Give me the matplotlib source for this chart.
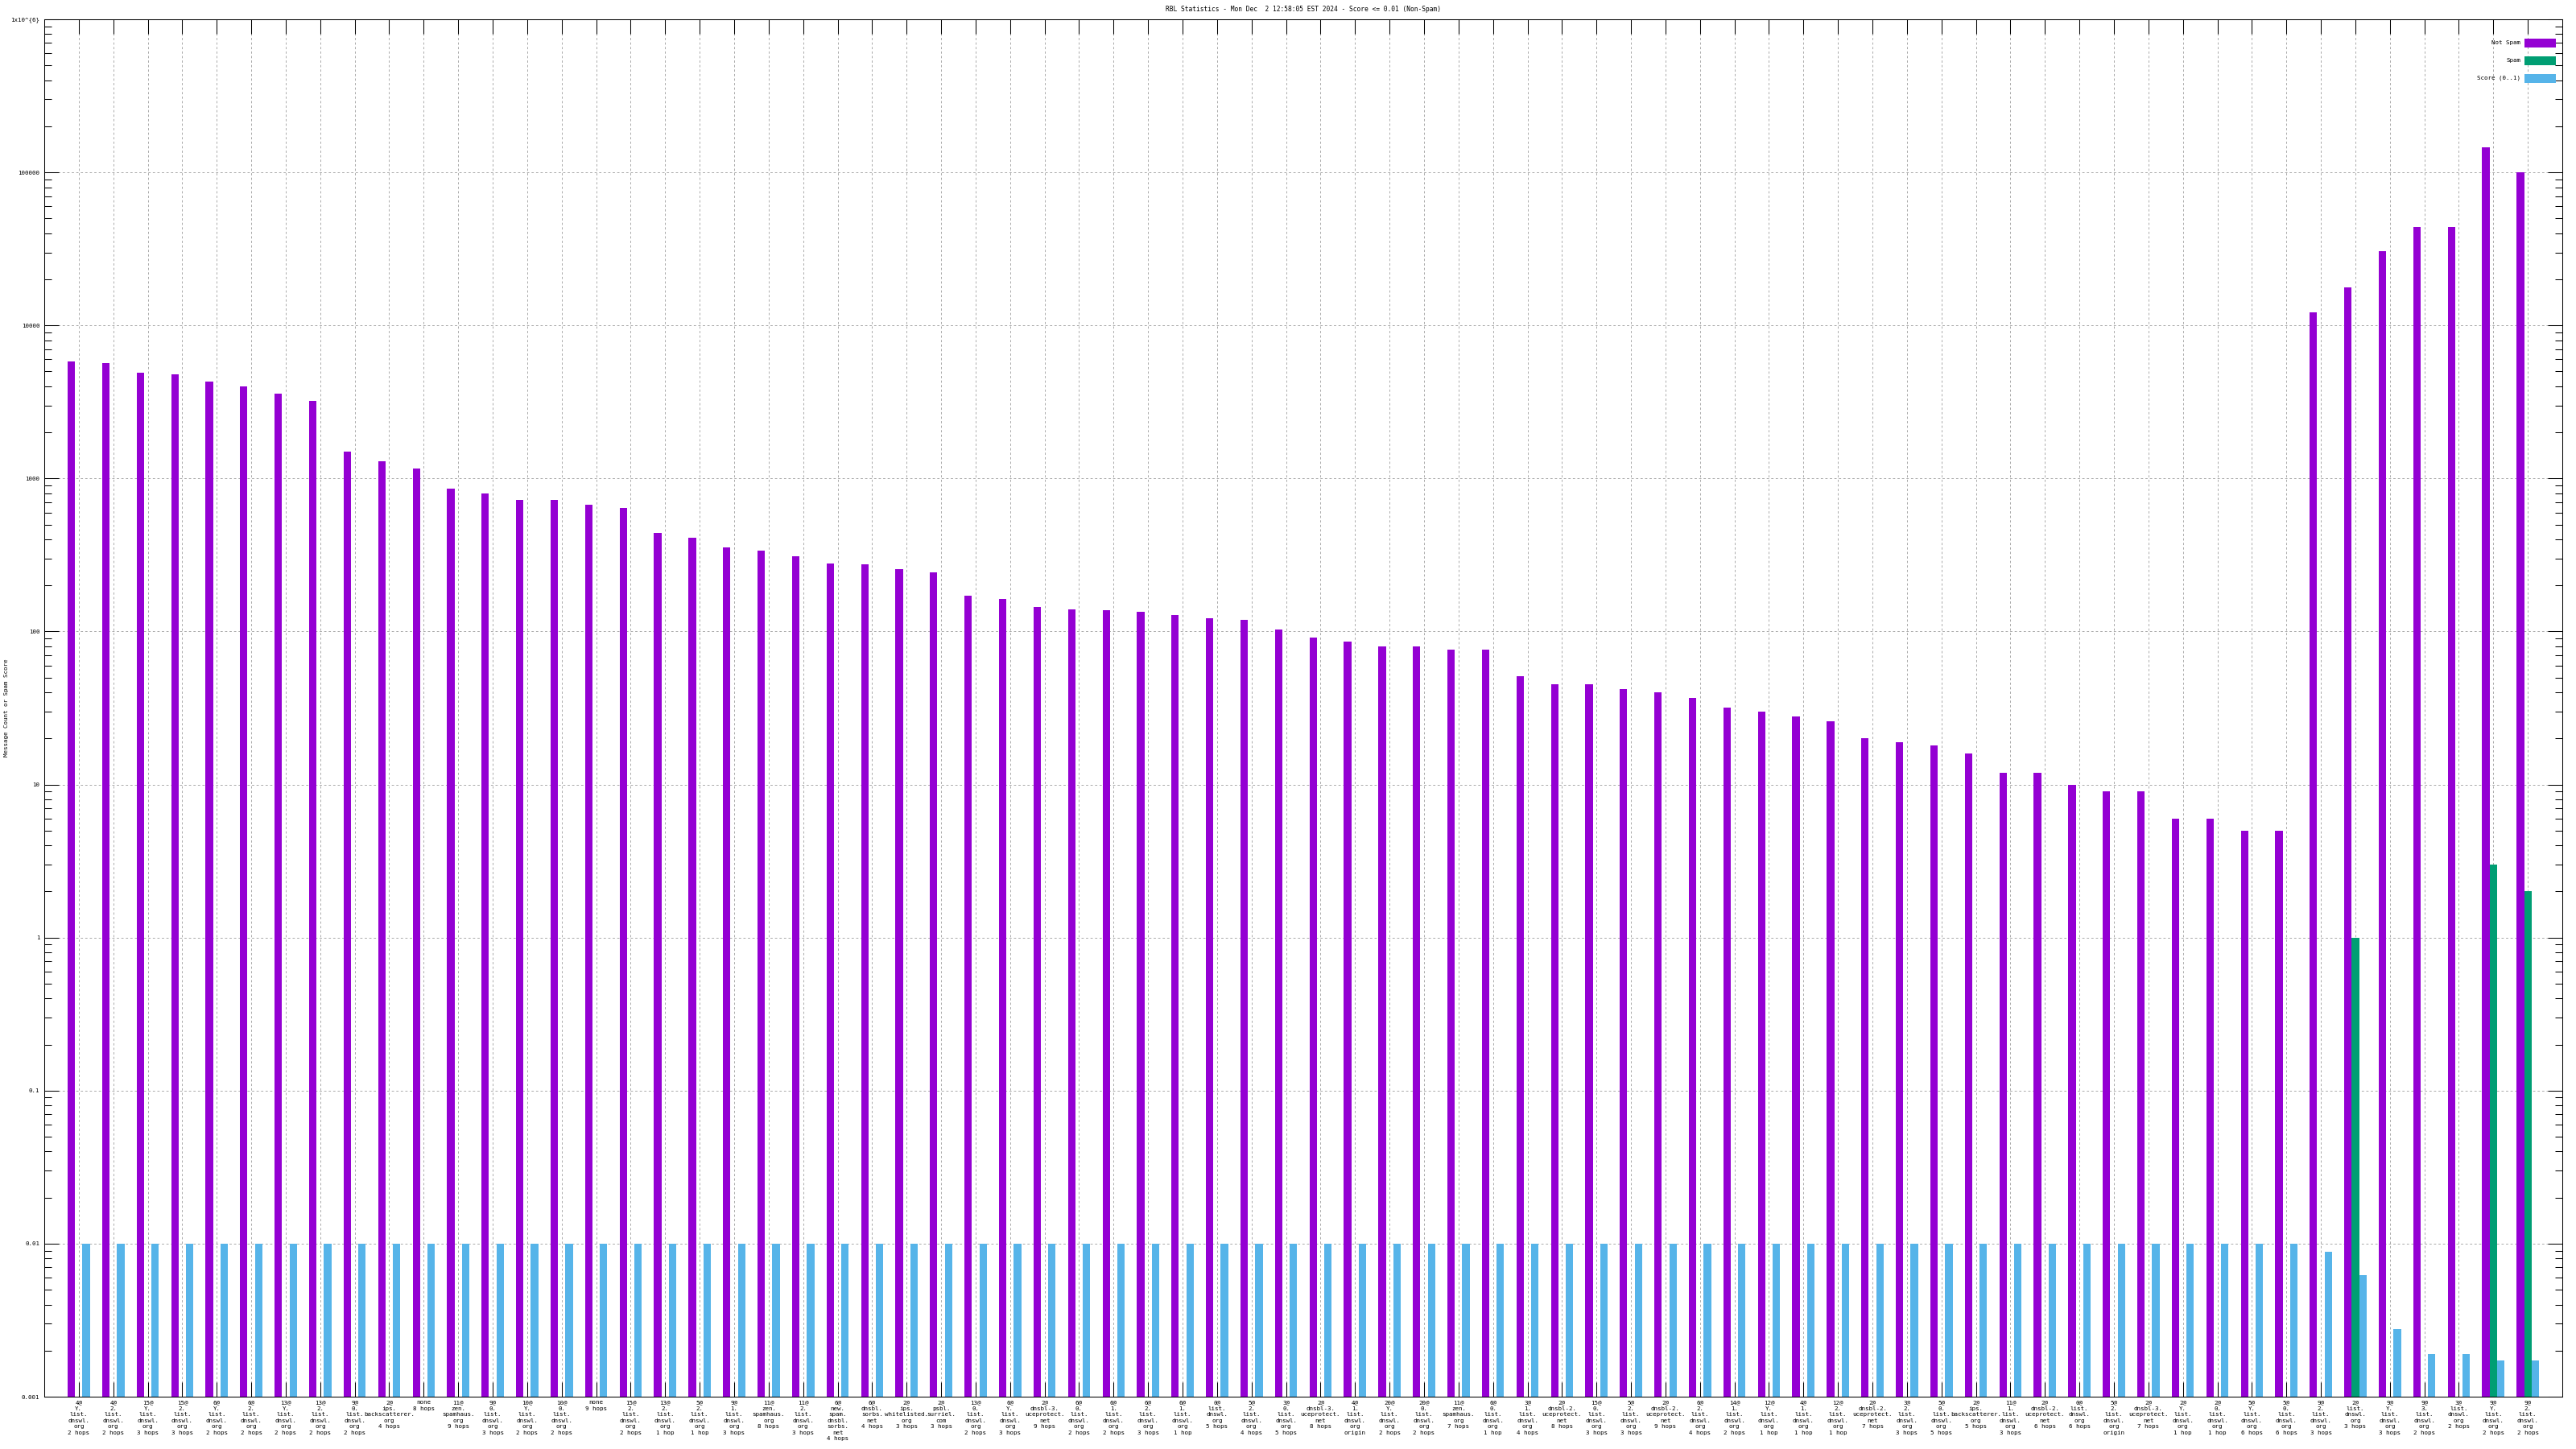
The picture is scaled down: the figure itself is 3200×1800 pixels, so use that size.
import matplotlib
matplotlib.use("Agg")
import matplotlib.pyplot as plt
from matplotlib.patches import Rectangle
import numpy as np

# ---------------- data ----------------
labels = [
    "4@\nY.\nlist.\ndnswl.\norg\n2 hops",
    "4@\n2.\nlist.\ndnswl.\norg\n2 hops",
    "15@\nY.\nlist.\ndnswl.\norg\n3 hops",
    "15@\n2.\nlist.\ndnswl.\norg\n3 hops",
    "6@\nY.\nlist.\ndnswl.\norg\n2 hops",
    "6@\n2.\nlist.\ndnswl.\norg\n2 hops",
    "13@\nY.\nlist.\ndnswl.\norg\n2 hops",
    "13@\n2.\nlist.\ndnswl.\norg\n2 hops",
    "9@\n0.\nlist.\ndnswl.\norg\n2 hops",
    "2@\nips.\nbackscatterer.\norg\n4 hops",
    "none\n8 hops",
    "11@\nzen.\nspamhaus.\norg\n9 hops",
    "9@\n0.\nlist.\ndnswl.\norg\n3 hops",
    "10@\nY.\nlist.\ndnswl.\norg\n2 hops",
    "10@\n0.\nlist.\ndnswl.\norg\n2 hops",
    "none\n9 hops",
    "15@\n2.\nlist.\ndnswl.\norg\n2 hops",
    "13@\n2.\nlist.\ndnswl.\norg\n1 hop",
    "5@\n2.\nlist.\ndnswl.\norg\n1 hop",
    "9@\n1.\nlist.\ndnswl.\norg\n3 hops",
    "11@\nzen.\nspamhaus.\norg\n8 hops",
    "11@\n2.\nlist.\ndnswl.\norg\n3 hops",
    "6@\nnew.\nspam.\ndnsbl.\nsorbs.\nnet\n4 hops",
    "6@\ndnsbl.\nsorbs.\nnet\n4 hops",
    "2@\nips.\nwhitelisted.\norg\n3 hops",
    "2@\npsbl.\nsurriel.\ncom\n3 hops",
    "13@\n0.\nlist.\ndnswl.\norg\n2 hops",
    "6@\nY.\nlist.\ndnswl.\norg\n3 hops",
    "2@\ndnsbl-3.\nuceprotect.\nnet\n9 hops",
    "6@\n0.\nlist.\ndnswl.\norg\n2 hops",
    "6@\n1.\nlist.\ndnswl.\norg\n2 hops",
    "6@\n2.\nlist.\ndnswl.\norg\n3 hops",
    "6@\n1.\nlist.\ndnswl.\norg\n1 hop",
    "0@\nlist.\ndnswl.\norg\n5 hops",
    "5@\n2.\nlist.\ndnswl.\norg\n4 hops",
    "3@\n0.\nlist.\ndnswl.\norg\n5 hops",
    "2@\ndnsbl-3.\nuceprotect.\nnet\n8 hops",
    "4@\n1.\nlist.\ndnswl.\norg\norigin",
    "20@\nY.\nlist.\ndnswl.\norg\n2 hops",
    "20@\n0.\nlist.\ndnswl.\norg\n2 hops",
    "11@\nzen.\nspamhaus.\norg\n7 hops",
    "6@\n0.\nlist.\ndnswl.\norg\n1 hop",
    "3@\n1.\nlist.\ndnswl.\norg\n4 hops",
    "2@\ndnsbl-2.\nuceprotect.\nnet\n8 hops",
    "15@\n0.\nlist.\ndnswl.\norg\n3 hops",
    "5@\n2.\nlist.\ndnswl.\norg\n3 hops",
    "2@\ndnsbl-2.\nuceprotect.\nnet\n9 hops",
    "6@\n2.\nlist.\ndnswl.\norg\n4 hops",
    "14@\n1.\nlist.\ndnswl.\norg\n2 hops",
    "12@\nY.\nlist.\ndnswl.\norg\n1 hop",
    "4@\n1.\nlist.\ndnswl.\norg\n1 hop",
    "12@\n2.\nlist.\ndnswl.\norg\n1 hop",
    "2@\ndnsbl-2.\nuceprotect.\nnet\n7 hops",
    "3@\n2.\nlist.\ndnswl.\norg\n3 hops",
    "5@\n0.\nlist.\ndnswl.\norg\n5 hops",
    "2@\nips.\nbackscatterer.\norg\n5 hops",
    "11@\n1.\nlist.\ndnswl.\norg\n3 hops",
    "2@\ndnsbl-2.\nuceprotect.\nnet\n6 hops",
    "0@\nlist.\ndnswl.\norg\n6 hops",
    "5@\n2.\nlist.\ndnswl.\norg\norigin",
    "2@\ndnsbl-3.\nuceprotect.\nnet\n7 hops",
    "2@\nY.\nlist.\ndnswl.\norg\n1 hop",
    "2@\n0.\nlist.\ndnswl.\norg\n1 hop",
    "5@\nY.\nlist.\ndnswl.\norg\n6 hops",
    "5@\n0.\nlist.\ndnswl.\norg\n6 hops",
    "9@\n2.\nlist.\ndnswl.\norg\n3 hops",
    "2@\nlist.\ndnswl.\norg\n3 hops",
    "9@\nY.\nlist.\ndnswl.\norg\n3 hops",
    "9@\n3.\nlist.\ndnswl.\norg\n2 hops",
    "3@\nlist.\ndnswl.\norg\n2 hops",
    "9@\nY.\nlist.\ndnswl.\norg\n2 hops",
    "9@\n2.\nlist.\ndnswl.\norg\n2 hops",
]

not_spam = [5800, 5700, 4900, 4800, 4300, 4000, 3600, 3200, 1500, 1300,
            1160, 860, 800, 725, 720, 675, 640, 440, 410, 355,
            337, 312, 277, 276, 257, 244, 172, 164, 145, 139,
            138, 135, 128, 122, 119, 103, 91, 86, 80, 80,
            76, 76, 51, 45, 45, 42, 40, 37, 32, 30,
            28, 26, 20, 19, 18, 16, 12, 12, 10, 9,
            9, 6, 6, 5, 5, 12200, 17700, 30400, 44100, 44000,
            145000, 100000]

spam = [0, 0, 0, 0, 0, 0, 0, 0, 0, 0,
        0, 0, 0, 0, 0, 0, 0, 0, 0, 0,
        0, 0, 0, 0, 0, 0, 0, 0, 0, 0,
        0, 0, 0, 0, 0, 0, 0, 0, 0, 0,
        0, 0, 0, 0, 0, 0, 0, 0, 0, 0,
        0, 0, 0, 0, 0, 0, 0, 0, 0, 0,
        0, 0, 0, 0, 0, 0, 1, 0, 0, 0,
        3, 2]

score = [0.01, 0.01, 0.01, 0.01, 0.01, 0.01, 0.01, 0.01, 0.01, 0.01,
         0.01, 0.01, 0.01, 0.01, 0.01, 0.01, 0.01, 0.01, 0.01, 0.01,
         0.01, 0.01, 0.01, 0.01, 0.01, 0.01, 0.01, 0.01, 0.01, 0.01,
         0.01, 0.01, 0.01, 0.01, 0.01, 0.01, 0.01, 0.01, 0.01, 0.01,
         0.01, 0.01, 0.01, 0.01, 0.01, 0.01, 0.01, 0.01, 0.01, 0.01,
         0.01, 0.01, 0.01, 0.01, 0.01, 0.01, 0.01, 0.01, 0.01, 0.01,
         0.01, 0.01, 0.01, 0.01, 0.01, 0.0088, 0.00625, 0.00276, 0.0019, 0.0019,
         0.00173, 0.00173]

ytick_vals = [1e-3, 1e-2, 1e-1, 1, 10, 100, 1000, 10000, 100000, 1e6]
ytick_labels = ["0.001", "0.01", "0.1", "1", "10", "100", "1000", "10000",
                "100000", "1x10^{6}"]

series_names = ["Not Spam", "Spam", "Score (0..1)"]
colors = ["#9400D3", "#009E73", "#56B4E9"]

title = "RBL Statistics - Mon Dec  2 12:58:05 EST 2024 - Score <= 0.01 (Non-Spam)"
ylabel = "Message Count or Spam Score"

# ---------------- figure ----------------
W, H = 3200, 1800
fig = plt.figure(figsize=(32, 18), dpi=100)
FONT = "DejaVu Sans Mono"
FS = 5.4

L, R, T, B = 55, 3183, 24, 1735
ax = fig.add_axes([L / W, 1 - B / H, (R - L) / W, (B - T) / H])

x = np.arange(len(labels))
bw = 0.215
off = 0.215
ax.bar(x - off, not_spam, width=bw, color=colors[0], linewidth=0, zorder=3)
ax.bar(x, spam, width=bw, color=colors[1], linewidth=0, zorder=3)
ax.bar(x + off, score, width=bw, color=colors[2], linewidth=0, zorder=3)

ax.set_yscale("log")
ax.set_ylim(1e-3, 1e6)
ax.set_xlim(-1, len(labels))

ax.set_yticks(ytick_vals)
ax.set_yticklabels(ytick_labels, fontfamily=FONT, fontsize=FS)
ax.set_xticks(x)
ax.set_xticklabels(labels, fontfamily=FONT, fontsize=FS, linespacing=1.3,
                   ha="center", va="top")
ax.xaxis.set_minor_locator(matplotlib.ticker.NullLocator())
ax.yaxis.set_minor_locator(matplotlib.ticker.LogLocator(base=10, subs=np.arange(2, 10), numticks=30))
ax.yaxis.set_minor_formatter(matplotlib.ticker.NullFormatter())

ax.tick_params(axis="both", which="major", direction="in", length=13, width=0.75,
               top=True, right=True, colors="black")
ax.tick_params(axis="y", which="minor", direction="in", length=6.5, width=0.75,
               left=True, right=True)
ax.tick_params(axis="x", which="major", pad=3)
ax.tick_params(axis="y", which="major", pad=4)

ax.grid(True, which="major", axis="both", color="#ababab",
        linestyle=(0, (2.8, 2.8)), linewidth=0.72, zorder=0)
ax.grid(False, which="minor")
ax.set_axisbelow(True)
for s in ax.spines.values():
    s.set_linewidth(0.75)
    s.set_color("black")
    s.set_zorder(5)

# title and y label
fig.text((L + R) / 2 / W, 1 - 12 / H, title, ha="center", va="center",
         fontfamily=FONT, fontsize=FS + 0.3)
fig.text(8 / W, 1 - ((T + B) / 2) / H, ylabel, rotation=90, ha="center",
         va="center", fontfamily=FONT, fontsize=FS)

# legend (text right of which a filled sample box)
ys = [53, 75, 97]
for name, col, yy in zip(series_names, colors, ys):
    fig.text(3131 / W, 1 - yy / H, name, ha="right", va="center",
             fontfamily=FONT, fontsize=FS)
    fig.add_artist(Rectangle((3136 / W, 1 - (yy + 5.5) / H), 39 / W, 11 / H,
                             transform=fig.transFigure, facecolor=col,
                             edgecolor="none"))

fig.savefig("out.png", dpi=100)
